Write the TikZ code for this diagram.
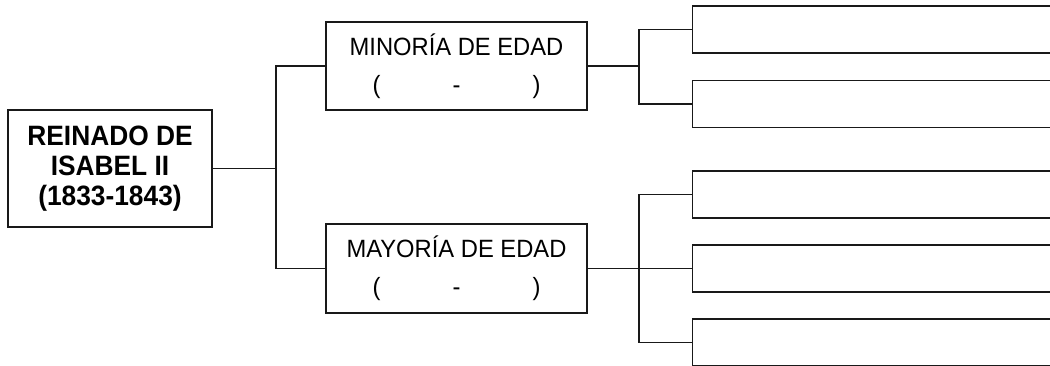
\documentclass[tikz,border=0pt]{standalone}
\usepackage{fontspec}
\setmainfont{Liberation Sans}
\newfontfamily\boldlbl[FakeStretch=0.94]{Liberation Sans Bold}
\newfontfamily\reglbl[FakeStretch=0.95]{Liberation Sans}
\begin{document}
\begin{tikzpicture}[x=1pt,y=-1pt,
  line width=1.3pt, draw=black!90,
  box/.style={draw=black!90, line width=1.3pt, rectangle, inner sep=0pt, anchor=center},
  mainbox/.style={box, minimum width=204pt, minimum height=117pt, align=center,
    font=\boldlbl\fontsize{28}{30}\selectfont},
  agebox/.style={box, minimum width=261pt, minimum height=88pt, align=center,
    font=\reglbl\fontsize{25}{38}\selectfont},
  blank/.style={box, minimum width=400pt, minimum height=47pt, anchor=west},
  link/.style={draw=black!90, line width=1.3pt}]
\useasboundingbox (0,0) rectangle (1050,365);
\clip (0,0) rectangle (1050,365);
\fill[white] (0,0) rectangle (1050,365);
\node[mainbox] (main) at (110,168.5) {REINADO DE\\ISABEL II\\(1833-1843)};
\node[agebox] (minor) at (456.5,66) {MINORÍA DE EDAD\\\makebox[168pt]{(\hfill-\hfill)}};
\node[agebox, minimum height=89pt] (mayor) at (456.5,268.5) {MAYORÍA DE EDAD\\\makebox[168pt]{(\hfill-\hfill)}};
\node[blank] (r1) at (692,29.5) {};
\node[blank] (r2) at (692,104) {};
\node[blank] (r3) at (692,194.5) {};
\node[blank] (r4) at (692,268.5) {};
\node[blank] (r5) at (692,342.5) {};
\coordinate (j1) at (276,168.5);
\coordinate (j2) at (639,66);
\coordinate (j3) at (639,268.5);
\draw[link] (main.east) -- (j1);
\draw[link] (minor.west) -| (j1);
\draw[link] (mayor.west) -| (j1);
\draw[link] (minor.east) -- (j2);
\draw[link] (r1.west) -| (j2);
\draw[link] (r2.west) -| (j2);
\draw[link] (mayor.east) -- (r4.west);
\draw[link] (r3.west) -| (j3);
\draw[link] (r5.west) -| (j3);
\end{tikzpicture}
\end{document}
